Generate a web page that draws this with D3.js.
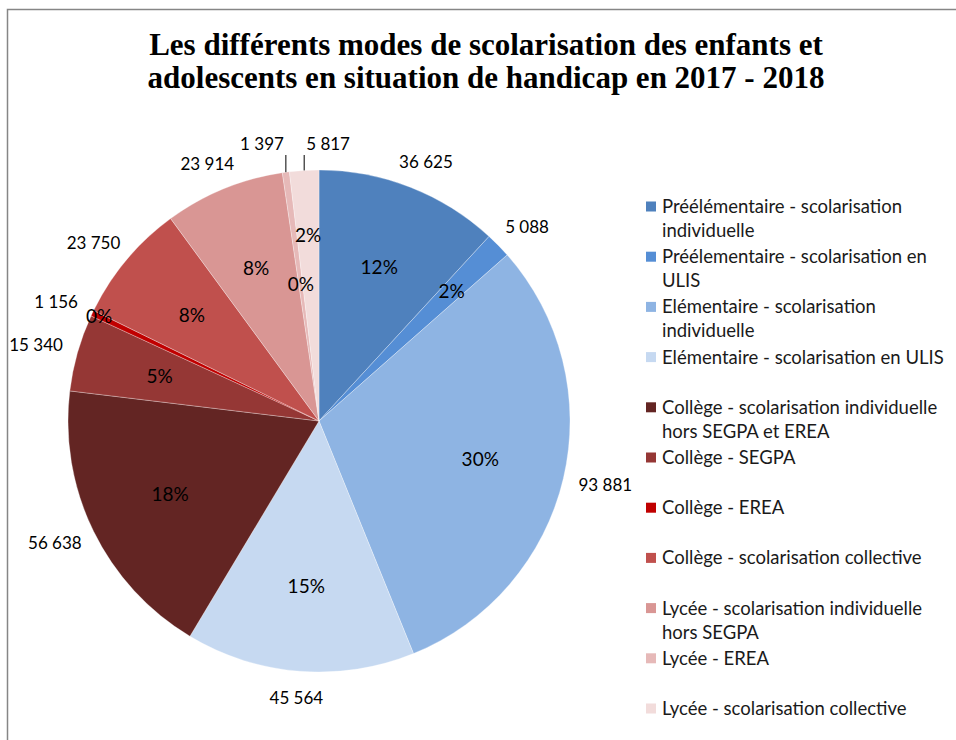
<!DOCTYPE html>
<html><head><meta charset="utf-8">
<script src="https://cdn.jsdelivr.net/npm/d3@7"></script>
<style>html,body{margin:0;padding:0;background:#fff;overflow:hidden}</style>
</head><body>
<svg id="chart" width="956" height="740"></svg>
<script>
const titleLines = ["Les différents  modes de scolarisation des enfants et", "adolescents en situation de handicap en 2017 - 2018"];
const categories = [
  "Préélémentaire - scolarisation\nindividuelle",
  "Préélementaire - scolarisation en\nULIS",
  "Elémentaire - scolarisation\nindividuelle",
  "Elémentaire - scolarisation en ULIS",
  "Collège - scolarisation individuelle\nhors SEGPA et EREA",
  "Collège - SEGPA",
  "Collège - EREA",
  "Collège - scolarisation collective",
  "Lycée - scolarisation individuelle\nhors SEGPA",
  "Lycée - EREA",
  "Lycée - scolarisation collective"
];
const values = [36625, 5088, 93881, 45564, 56638, 15340, 1156, 23750, 23914, 1397, 5817];
const colors = ["#4F81BD", "#558ED5", "#8EB4E3", "#C6D9F1", "#632523", "#953735", "#C00000", "#C0504D", "#D99694", "#E6B9B8", "#F2DCDB"];

const svg = d3.select("#chart");
const cx = 319, cy = 421, R = 251;
const font = "Lato, 'Open Sans', sans-serif";

// frame
svg.append("rect").attr("x", 7.5).attr("y", 9.5).attr("width", 960).attr("height", 760)
  .attr("fill", "none").attr("stroke", "#868686").attr("stroke-width", 1.5);

// title
svg.append("text").attr("x", 486).attr("text-anchor", "middle")
  .attr("font-family", "'Liberation Serif', serif").attr("font-weight", "bold").attr("font-size", 31)
  .attr("fill", "#000")
  .selectAll("tspan").data(titleLines).join("tspan")
  .attr("x", 486).attr("y", (d, i) => 55 + i * 33).text(d => d);

const total = d3.sum(values);
const data = values.map((v, i) => ({v, i}));
const pie = d3.pie().value(d => d.v).sort(null);
const arcs = pie(data);
const arc = d3.arc().innerRadius(0).outerRadius(R);

const g = svg.append("g").attr("transform", `translate(${cx},${cy})`);
g.selectAll("path").data(arcs).join("path")
  .attr("d", arc).attr("fill", d => colors[d.data.i])
  .attr("stroke", "#fff").attr("stroke-opacity", 0.5).attr("stroke-width", 0.6);

const fmt = d3.formatLocale({decimal: ",", thousands: " ", grouping: [3], currency: ["", "€"]}).format(",d");
const pct = v => Math.round(v / total * 100) + "%";
const mid = d => (d.startAngle + d.endAngle) / 2;

// percent labels
const placed = [];
const pos = [];
arcs.forEach(d => {
  const share = d.data.v / total;
  const a = mid(d);
  const rr = share < 0.03 ? 0.74 * R : 0.66 * R;
  pos[d.index] = [Math.sin(a) * rr, -Math.cos(a) * rr];
  if (share >= 0.01) placed.push(pos[d.index]);
});
arcs.forEach(d => {
  const share = d.data.v / total;
  if (share >= 0.01) return;
  const a = mid(d);
  for (const f of [0.55, 0.97]) {
    const p = [Math.sin(a) * f * R, -Math.cos(a) * f * R];
    pos[d.index] = p;
    if (placed.every(q => Math.hypot(q[0] - p[0], q[1] - p[1]) >= 45)) break;
  }
  placed.push(pos[d.index]);
});
g.selectAll("text.pct").data(arcs).join("text").attr("class", "pct")
  .attr("x", d => pos[d.index][0]).attr("y", d => pos[d.index][1])
  .attr("text-anchor", "middle").attr("dy", "0.36em")
  .attr("font-family", font).attr("font-size", 19).attr("fill", "#000")
  .text(d => pct(d.data.v));

// value labels
const topSmall = arcs.filter(d => d.data.v / total < 0.02 && (mid(d) > 2 * Math.PI - 0.3 || mid(d) < 0.3));
arcs.forEach(d => {
  const a = mid(d);
  const t = g.append("text").attr("font-family", font).attr("font-size", 17).attr("fill", "#000")
    .text(fmt(d.data.v));
  const k = topSmall.indexOf(d);
  if (k >= 0) {
    const x0 = Math.sin(a) * R, y0 = -Math.cos(a) * R;
    const yTop = -R - 15;
    g.append("line").attr("x1", x0).attr("y1", y0).attr("x2", x0).attr("y2", yTop)
      .attr("stroke", "#000").attr("stroke-width", 1);
    t.attr("x", k === 0 ? x0 - 2 : x0 + 2).attr("y", yTop - 5)
      .attr("text-anchor", k === 0 ? "end" : "start");
  } else {
    const w = t.node().getComputedTextLength();
    const dist = R + 27;
    t.attr("x", Math.sin(a) * dist + Math.sin(a) * w * 0.3)
      .attr("y", -Math.cos(a) * dist).attr("dy", "0.36em").attr("text-anchor", "middle");
  }
});

// legend
const lg = svg.append("g");
categories.forEach((c, i) => {
  const y = 213 + i * 50.2;
  lg.append("rect").attr("x", 646).attr("y", y - 11.5).attr("width", 10).attr("height", 10)
    .attr("fill", colors[i]);
  lg.append("text").attr("font-family", font).attr("font-size", 18.5).attr("fill", "#1a1a1a")
    .selectAll("tspan").data(c.split("\n")).join("tspan")
    .attr("x", 662).attr("y", (d, j) => y + j * 24).text(d => d);
});
</script>
</body></html>
